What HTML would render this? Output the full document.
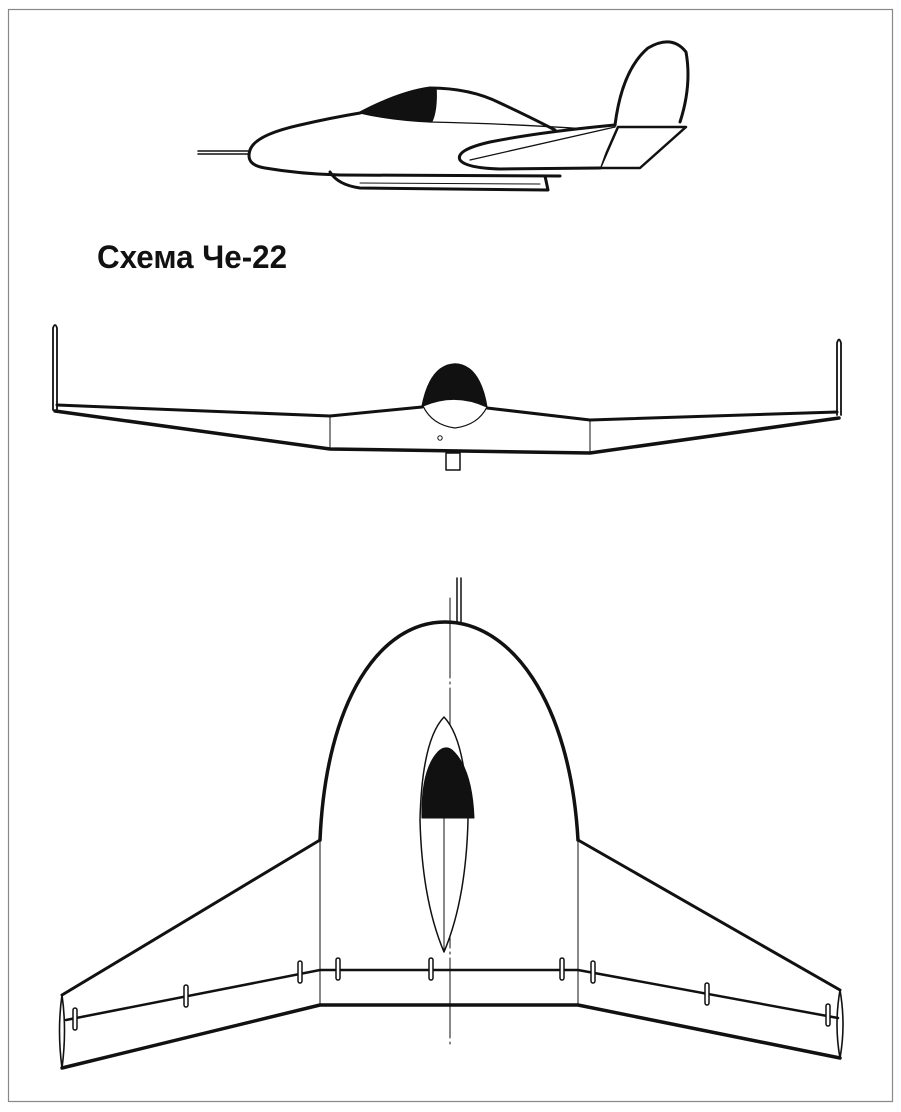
<!DOCTYPE html>
<html><head><meta charset="utf-8"><style>
html,body{margin:0;padding:0;background:#fff;}
svg{display:block}
</style></head><body>
<svg width="901" height="1112" viewBox="0 0 901 1112" xmlns="http://www.w3.org/2000/svg">
<rect x="8.5" y="9.5" width="884" height="1092" fill="none" stroke="#888" stroke-width="1.2"/>
<g fill="none" stroke="#111" stroke-linejoin="round" stroke-linecap="round">
<!-- SIDE VIEW -->
<path d="M198,151 L248,151 M198,154 L248,154" stroke-width="1.5"/>
<path d="M330,172 Q338,185 360,188 L548,190 L545,176" stroke-width="3" fill="#fff"/>
<path d="M360,183 L540,184" stroke-width="1"/>
<path d="M250,150 Q255,135 300,125 Q330,118 360,113 Q400,92 430,88 Q470,88 500,103 Q530,117 555,130" stroke-width="3" fill="#fff"/>
<path d="M250,150 Q245,165 265,168 Q300,174 340,175 L560,176" stroke-width="3"/>
<path d="M360,113 Q390,120 430,122 Q520,124 600,130" stroke-width="1.3"/>
<path d="M362,113 Q395,92 436,88 Q437,110 432,121 Q400,120 362,113 Z" fill="#111" stroke-width="1.5"/>
<path d="M615,125 Q622,70 648,48 Q672,34 686,52 Q692,85 680,122" stroke-width="3" fill="#fff"/>
<path d="M600,168 L640,168 L686,127 L618,127 Z" stroke-width="2.5" fill="#fff"/>
<path d="M615,125 Q540,132 490,142 Q455,150 460,160 Q466,168 500,169 L600,168" stroke-width="3" fill="#fff"/>
<path d="M470,160 L615,127" stroke-width="1.3"/>
</g>
<text x="97" y="268" font-family="Liberation Sans, sans-serif" font-weight="bold" font-size="32" fill="#111" textLength="190" lengthAdjust="spacingAndGlyphs">Схема Че-22</text>
<g fill="none" stroke="#111" stroke-linejoin="round" stroke-linecap="round">
<!-- FRONT VIEW -->
<path d="M53,410 L53,328 Q55,322 57,328 L57,410" stroke-width="1.8"/>
<path d="M837,415 L837,343 Q839,336 841,343 L841,415" stroke-width="1.8"/>
<path d="M57,405 L330,416 L422,407 M487,408 L590,420 L837,412" stroke-width="3"/>
<path d="M55,411 L330,449 L590,453 L839,418" stroke-width="3.5"/>
<path d="M330,416 L330,449 M590,420 L590,453" stroke-width="1"/>
<path d="M422,407 Q430,365 455,364 Q480,365 487,408 Z" fill="#111" stroke-width="1.5"/>
<path d="M423,406 Q455,392 487,407 Q478,425 455,428 Q432,425 423,406 Z" fill="#fff" stroke-width="1.2"/>
<circle cx="440" cy="438" r="2.2" stroke-width="1"/>
<rect x="446" y="453" width="14" height="17" stroke-width="1.5"/>
<!-- TOP VIEW -->
<path d="M457,578 L457,622 M461,578 L461,622" stroke-width="1.5"/>
<path d="M450,598 L450,1048" stroke-width="1" stroke-dasharray="80,4,2,4"/>
<path d="M320,840 C326,700 380,622 445,622 C510,622 570,700 578,840" stroke-width="3.5"/>
<path d="M320,840 L62,995 M578,840 L840,990" stroke-width="3"/>
<path d="M62,995 Q57,1030 62,1068 M62,995 Q67,1030 62,1068 M840,990 Q846,1025 840,1058 M840,990 Q834,1025 840,1058" stroke-width="1.6"/>
<path d="M62,1068 L320,1005 L578,1005 L840,1058" stroke-width="3.5"/>
<path d="M66,1020 L320,970 L578,970 L838,1018" stroke-width="2.5"/>
<path d="M320,840 L320,1005 M578,840 L578,1005" stroke-width="1"/>
<path d="M444,717 Q466,740 468,820 Q466,900 444,952 Q422,900 420,820 Q422,740 444,717 Z" stroke-width="1.5" fill="#fff"/>
<path d="M422,818 Q421,770 438,752 Q445,745 452,750 Q472,768 474,818 Z" fill="#111" stroke-width="1"/>
<path d="M444,818 L444,952" stroke-width="1"/>
<g stroke-width="1.5" fill="#fff">
<rect x="73" y="1008" width="4" height="22" rx="2"/>
<rect x="184" y="985" width="4" height="22" rx="2"/>
<rect x="298" y="961" width="4" height="22" rx="2"/>
<rect x="336" y="958" width="4" height="22" rx="2"/>
<rect x="429" y="958" width="4" height="22" rx="2"/>
<rect x="560" y="958" width="4" height="22" rx="2"/>
<rect x="591" y="961" width="4" height="22" rx="2"/>
<rect x="705" y="983" width="4" height="22" rx="2"/>
<rect x="826" y="1004" width="4" height="22" rx="2"/>
</g>
</g>
</svg>
</body></html>
